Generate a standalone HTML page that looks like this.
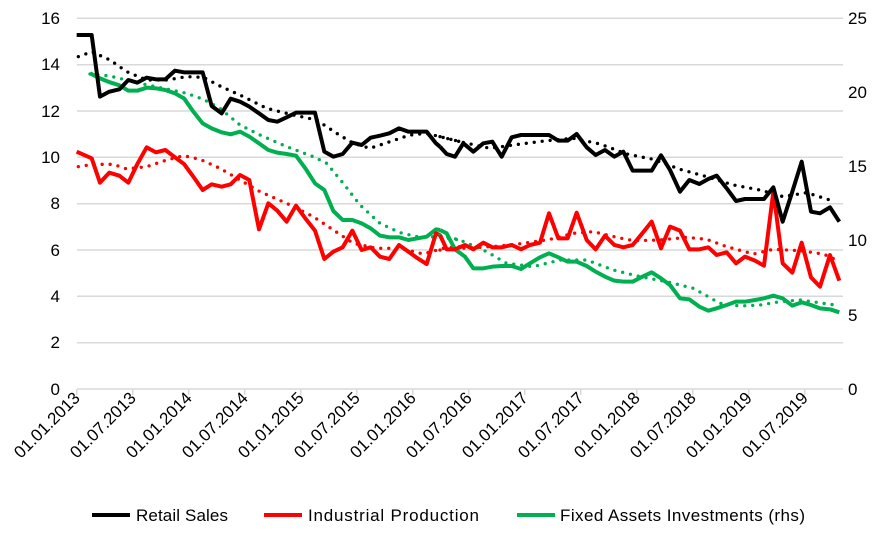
<!DOCTYPE html>
<html><head><meta charset="utf-8"><style>
body{margin:0;background:#fff}
svg text{font-family:"Liberation Sans",Arial,sans-serif;font-size:17px;fill:#000}
</style></head><body>
<svg width="888" height="539" viewBox="0 0 888 539" xmlns="http://www.w3.org/2000/svg">
<g stroke="#d9d9d9" stroke-width="1.5">
<line x1="77" x2="843" y1="18.3" y2="18.3"/><line x1="77" x2="843" y1="64.7" y2="64.7"/>
<line x1="77" x2="843" y1="111" y2="111"/><line x1="77" x2="843" y1="157.3" y2="157.3"/>
<line x1="77" x2="843" y1="203.7" y2="203.7"/><line x1="77" x2="843" y1="250" y2="250"/>
<line x1="77" x2="843" y1="296.3" y2="296.3"/><line x1="77" x2="843" y1="342.7" y2="342.7"/>
<line x1="77" x2="843" y1="389" y2="389"/>
</g>
<g stroke="#d9d9d9" stroke-width="1.5">
<line x1="76.7" x2="76.7" y1="389" y2="395"/><line x1="132.7" x2="132.7" y1="389" y2="395"/><line x1="188.7" x2="188.7" y1="389" y2="395"/><line x1="244.7" x2="244.7" y1="389" y2="395"/><line x1="300.7" x2="300.7" y1="389" y2="395"/><line x1="356.7" x2="356.7" y1="389" y2="395"/><line x1="412.7" x2="412.7" y1="389" y2="395"/><line x1="468.7" x2="468.7" y1="389" y2="395"/><line x1="524.7" x2="524.7" y1="389" y2="395"/><line x1="580.7" x2="580.7" y1="389" y2="395"/><line x1="636.7" x2="636.7" y1="389" y2="395"/><line x1="692.7" x2="692.7" y1="389" y2="395"/><line x1="748.7" x2="748.7" y1="389" y2="395"/><line x1="804.7" x2="804.7" y1="389" y2="395"/>
</g>
<g text-anchor="end">
<text x="60" y="24">16</text><text x="60" y="70">14</text><text x="60" y="117">12</text><text x="60" y="163">10</text><text x="60" y="209">8</text><text x="60" y="256">6</text><text x="60" y="302">4</text><text x="60" y="348">2</text><text x="60" y="395">0</text>
</g>
<g>
<text x="848" y="24">25</text><text x="848" y="98">20</text><text x="848" y="172">15</text><text x="848" y="246">10</text><text x="848" y="321">5</text><text x="848" y="395">0</text>
</g>
<g text-anchor="end" style="font-size:17.5px">
<text transform="translate(81,399) rotate(-45)">01.01.2013</text>
<text transform="translate(137,399) rotate(-45)">01.07.2013</text>
<text transform="translate(193,399) rotate(-45)">01.01.2014</text>
<text transform="translate(249,399) rotate(-45)">01.07.2014</text>
<text transform="translate(305,399) rotate(-45)">01.01.2015</text>
<text transform="translate(361,399) rotate(-45)">01.07.2015</text>
<text transform="translate(417,399) rotate(-45)">01.01.2016</text>
<text transform="translate(473,399) rotate(-45)">01.07.2016</text>
<text transform="translate(529,399) rotate(-45)">01.01.2017</text>
<text transform="translate(585,399) rotate(-45)">01.07.2017</text>
<text transform="translate(641,399) rotate(-45)">01.01.2018</text>
<text transform="translate(697,399) rotate(-45)">01.07.2018</text>
<text transform="translate(753,399) rotate(-45)">01.01.2019</text>
<text transform="translate(809,399) rotate(-45)">01.07.2019</text>
</g>
<g transform="translate(60,0) scale(0.33333)" fill="none" stroke-linejoin="round">
<polyline stroke="#000" stroke-width="10" stroke-linecap="round" stroke-dasharray="0 24" points="55,170 95,155 150,180 200,215 260,240 320,240 380,230 430,232 480,258 550,290 620,325 700,345 770,360 830,400 880,430 930,445 990,425 1050,405 1100,400 1200,425"/>
<polyline stroke="#ff0000" stroke-width="10" stroke-linecap="round" stroke-dasharray="0 24" points="55,500 100,493 160,493 200,507 260,500 320,480 370,467 420,478 480,505 540,540 600,575 680,610 760,650 820,690 880,730 950,745 1020,745 1090,762 1150,745 1200,740"/>
<polyline stroke="#00b050" stroke-width="10" stroke-linecap="round" stroke-dasharray="0 24" points="90,222 150,228 230,248 310,265 380,280 430,298 480,325 540,375 600,405 680,440 760,470 800,490 850,550 900,615 960,670 1020,698 1080,712 1130,710 1200,720"/>
<polyline stroke="#00b050" stroke-width="12" points="90,220 120,235 150,247 178,256 205,272 232,272 260,263 288,265 316,270 345,280 372,295 400,335 428,370 455,385 485,397 512,403 540,395 568,410 597,430 625,450 652,458 680,462 708,467 736,505 765,550 793,570 820,633 848,660 877,660 905,670 932,685 960,707 988,712 1017,712 1045,720 1073,715 1100,710 1128,688 1140,690"/>
<polyline stroke="#ff0000" stroke-width="12" points="50,455 95,475 120,548 148,518 178,527 205,548 232,492 260,442 288,457 316,450 345,472 372,492 400,530 428,570 455,553 485,560 512,553 540,525 568,540 597,688 625,610 652,632 680,665 708,617 736,655 765,692 793,777 820,755 848,742 877,692 905,750 932,742 960,770 988,777 1017,735 1045,755 1073,775 1100,792 1128,700 1140,705"/>
<polyline stroke="#000" stroke-width="12" points="50,105 95,105 120,290 148,275 178,268 205,240 232,248 260,233 288,238 316,238 345,212 372,217 400,217 428,217 455,318 485,340 512,296 540,305 568,320 597,340 625,360 652,365 680,352 708,338 736,338 765,338 793,455 820,470 848,462 877,428 905,435 932,413 960,407 988,400 1017,385 1045,395 1073,395 1100,395 1128,430 1140,440"/>
</g>
<g transform="translate(440,0) scale(0.33333)" fill="none" stroke-linejoin="round">
<polyline stroke="#000" stroke-width="10" stroke-linecap="round" stroke-dasharray="0 24" points="0,410 60,425 150,445 220,435 320,422 400,415 480,432 560,462 640,478 720,508 800,530 880,555 960,570 1030,590 1100,578 1185,605"/>
<polyline stroke="#ff0000" stroke-width="10" stroke-linecap="round" stroke-dasharray="0 24" points="0,750 60,745 120,742 180,738 250,730 330,718 400,700 460,695 530,712 580,722 660,720 740,712 800,718 860,740 940,762 1000,748 1080,752 1150,762 1185,778"/>
<polyline stroke="#00b050" stroke-width="10" stroke-linecap="round" stroke-dasharray="0 24" points="0,705 60,720 140,755 200,790 280,800 360,780 440,780 520,810 600,830 680,845 760,865 840,910 900,918 960,915 1020,905 1080,900 1185,915"/>
<polyline stroke="#00b050" stroke-width="12" points="0,690 20,700 45,748 75,770 100,805 130,805 157,800 185,798 215,798 243,807 270,790 300,772 327,760 355,772 383,785 410,785 440,798 467,815 495,830 523,842 550,845 578,845 607,830 635,817 663,835 690,855 720,895 748,898 778,920 805,932 830,925 860,915 888,905 915,905 945,900 972,895 1000,887 1028,895 1057,917 1085,907 1113,915 1140,925 1170,928 1198,937"/>
<polyline stroke="#ff0000" stroke-width="12" points="0,705 20,748 45,748 75,735 100,748 130,728 157,742 185,742 215,735 243,748 270,735 300,728 327,640 355,715 383,715 410,638 440,720 467,748 495,707 523,735 550,742 578,735 607,700 635,665 663,745 690,680 720,692 748,748 778,748 805,742 830,765 860,757 888,790 915,770 945,782 972,797 1000,575 1028,790 1057,818 1085,728 1113,832 1140,860 1170,765 1198,842"/>
<polyline stroke="#000" stroke-width="12" points="0,440 20,462 45,470 70,430 100,455 130,430 157,425 185,470 215,412 243,405 270,405 300,405 327,405 355,422 383,422 410,402 440,442 467,465 495,450 523,470 550,455 578,512 607,512 635,512 663,466 690,510 720,575 748,540 778,552 805,537 830,527 860,565 888,603 915,597 945,597 972,597 1000,562 1028,665 1057,575 1085,485 1113,635 1140,640 1170,622 1198,665"/>
</g>
<line x1="92" x2="130" y1="515" y2="515" stroke="#000" stroke-width="4"/>
<text x="136" y="521" textLength="92">Retail Sales</text>
<line x1="264" x2="302" y1="515" y2="515" stroke="#ff0000" stroke-width="4"/>
<text x="308" y="521" textLength="171">Industrial Production</text>
<line x1="517" x2="555" y1="515" y2="515" stroke="#00b050" stroke-width="4"/>
<text x="560" y="521" textLength="245">Fixed Assets Investments (rhs)</text>
</svg>
</body></html>
